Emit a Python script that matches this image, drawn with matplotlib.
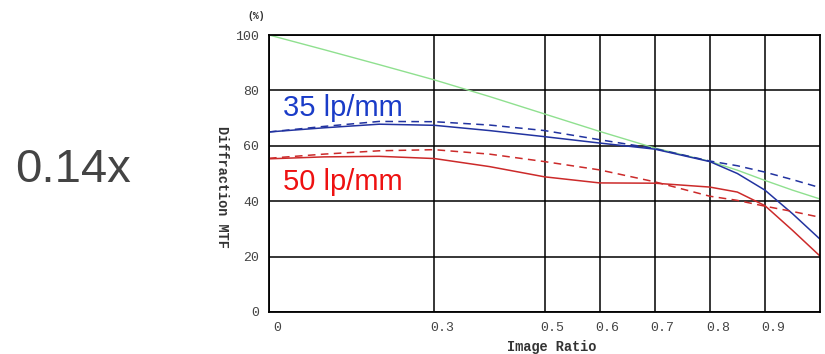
import numpy as np
import matplotlib.pyplot as plt
import matplotlib.transforms as mtransforms

# datos
ratio = [0, 0.1, 0.2, 0.3, 0.4, 0.5, 0.6, 0.7, 0.8, 0.85, 0.9, 0.95, 1.0]
green = [100, 94.7, 89.3, 83.8, 77.8, 71.5, 65.2, 59.2, 54.4, 51.2, 47.5, 44.0, 40.8]
blue_s = [65, 66.5, 67.8, 67.4, 65.5, 63.3, 61.0, 58.8, 54.3, 50.0, 44.0, 35.5, 26.3]
blue_d = [65, 67.0, 68.8, 68.7, 67.5, 65.5, 62.2, 59.0, 54.5, 52.8, 50.5, 47.8, 44.9]
red_s = [55.3, 56.0, 56.2, 55.4, 52.5, 48.8, 46.6, 46.5, 45.1, 43.3, 38.4, 29.5, 20.2]
red_d = [55.5, 57.0, 58.2, 58.6, 57.0, 54.3, 51.3, 47.0, 41.8, 40.3, 38.2, 36.3, 34.2]

xticks = [0, 0.3, 0.5, 0.6, 0.7, 0.8, 0.9]
xlabels = ['0', '0.3', '0.5', '0.6', '0.7', '0.8', '0.9']
yticks = [0, 20, 40, 60, 80, 100]

fig = plt.figure(figsize=(8.25, 3.54), dpi=100)
ax = fig.add_axes([269/825, 1 - 312/354, 551/825, 277/354])

ax.plot(ratio, green, color='#8fe08f', lw=1.0)
ax.plot(ratio, blue_s, color='#2233a0', lw=1.1)
ax.plot(ratio, blue_d, color='#2233a0', lw=1.1, dashes=(5, 3.5))
ax.plot(ratio, red_s, color='#cc2a2a', lw=1.1)
ax.plot(ratio, red_d, color='#cc2a2a', lw=1.1, dashes=(5, 3.5))

ax.set_xlim(0, 1.0)
ax.set_ylim(0, 100)
ax.set_xticks(xticks)
ax.set_xticklabels(xlabels)
ax.set_yticks(yticks)
ax.grid(True, color='black', lw=1.1)
ax.set_axisbelow(True)
for s in ax.spines.values():
    s.set_linewidth(1.3)
ax.tick_params(length=0, labelsize=9.5, pad=7)
for lab in ax.get_xticklabels() + ax.get_yticklabels():
    lab.set_family('Liberation Mono')
    lab.set_color('#444444')
off = mtransforms.ScaledTranslation(8/100, 0, fig.dpi_scale_trans)
for lab in ax.get_xticklabels():
    lab.set_transform(lab.get_transform() + off)

fig.text(552/825, 1 - 347/354, 'Image Ratio', ha='center', va='center',
         family='Liberation Mono', fontweight='bold', fontsize=9.8, color='#333333')
fig.text(222/825, 1 - 187/354, 'Diffraction MTF', ha='center', va='center',
         rotation=270, family='Liberation Mono', fontweight='bold',
         fontsize=9.8, color='#333333')
fig.text(256/825, 1 - 16/354, '(%)', ha='center', va='center',
         family='Liberation Mono', fontweight='bold', fontsize=7, color='#333333')

fig.text(283/825, 1 - 108/354, '35 lp/mm', ha='left', va='center',
         family='Liberation Sans', fontsize=21, color='#1a3cc8')
fig.text(283/825, 1 - 182/354, '50 lp/mm', ha='left', va='center',
         family='Liberation Sans', fontsize=21, color='#ee1111')
fig.text(15/825, 1 - 170/354, '0.14x', ha='left', va='center',
         family='Liberation Sans', fontsize=34, color='#444444')

plt.savefig('out.png', dpi=100)
